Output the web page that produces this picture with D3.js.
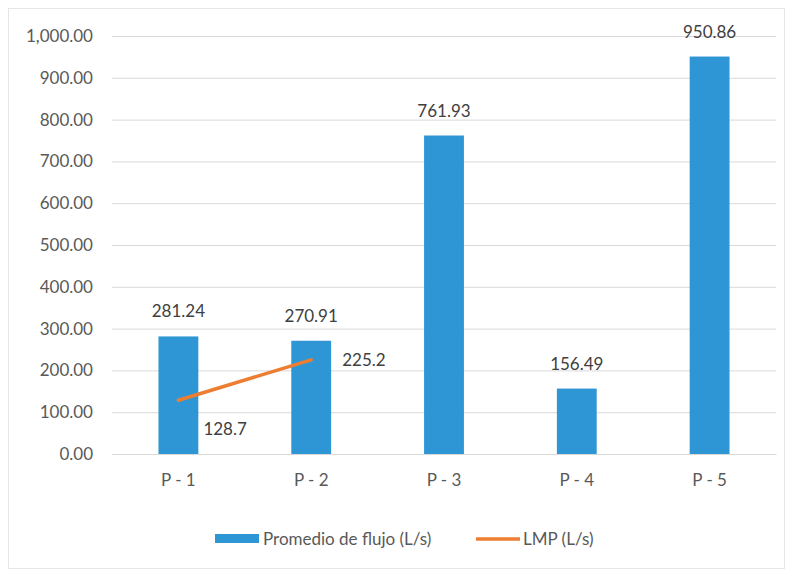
<!DOCTYPE html>
<html><head><meta charset="utf-8">
<script src="https://cdn.jsdelivr.net/npm/d3@7"></script>
<style>body{margin:0;background:#fff}text{font-family:Lato,"Open Sans",sans-serif}</style>
</head><body>
<svg id="c" width="788" height="574"></svg>
<script>
const categories = ["P - 1","P - 2","P - 3","P - 4","P - 5"];
const flujo = [281.24, 270.91, 761.93, 156.49, 950.86];
const lmpCats = ["P - 1","P - 2"];
const lmp = [128.7, 225.2];
const yTicks = [0,100,200,300,400,500,600,700,800,900,1000];
const seriesNames = ["Promedio de flujo (L/s)","LMP (L/s)"];

const svg = d3.select("#c");
const W = 788, H = 574;
svg.append("rect").attr("x",8.5).attr("y",8.5).attr("width",W-12).attr("height",H-14)
  .attr("fill","#fff").attr("stroke","#e6e6e6");
const m = {l:112, r:776, t:36, b:454};
const x = d3.scaleBand().domain(categories).range([m.l,m.r]).paddingInner(0.7).paddingOuter(0.35);
const y = d3.scaleLinear().domain([0,1000]).range([m.b,m.t]);

const fmt = d3.format(",.2f");
const FS = 17;
const ga = svg.append("g").attr("transform",`translate(${m.l},0)`)
  .call(d3.axisLeft(y).tickValues(yTicks).tickSize(-(m.r-m.l)).tickFormat(fmt).tickPadding(19));
ga.select(".domain").remove();
ga.selectAll(".tick line").attr("stroke","#d9d9d9").attr("stroke-width",1);
ga.selectAll(".tick text").attr("fill","#595959").attr("font-size",FS);

const gx = svg.append("g").attr("transform",`translate(0,${m.b})`)
  .call(d3.axisBottom(x).tickSize(0).tickPadding(20));
gx.select(".domain").attr("stroke","#d9d9d9");
gx.selectAll(".tick text").attr("fill","#595959").attr("font-size",FS);

svg.selectAll(".bar").data(flujo).enter().append("rect")
  .attr("x",(d,i)=>x(categories[i])).attr("width",x.bandwidth())
  .attr("y",d=>y(d)).attr("height",d=>y(0)-y(d)).attr("fill","#2E96D4");

svg.selectAll(".bl").data(flujo).enter().append("text")
  .attr("x",(d,i)=>x(categories[i])+x.bandwidth()/2).attr("y",d=>y(d)-19)
  .attr("text-anchor","middle").attr("fill","#404040").attr("font-size",FS)
  .text(d=>fmt(d));

const cx = c => x(c)+x.bandwidth()/2;
const line = d3.line().x((d,i)=>cx(lmpCats[i])).y(d=>y(d));
svg.append("path").datum(lmp).attr("d",line).attr("fill","none")
  .attr("stroke","#ED7D31").attr("stroke-width",3.5).attr("stroke-linecap","round");

svg.selectAll(".ll").data(lmp).enter().append("text")
  .attr("x",(d,i)=>cx(lmpCats[i]) + (i===0?25:31))
  .attr("y",(d,i)=>y(d)+(i===0?35:6))
  .attr("fill","#404040").attr("font-size",FS).text(d=>d);

// legend
const lg = svg.append("g");
lg.append("rect").attr("x",215).attr("y",534).attr("width",44).attr("height",9).attr("fill","#2E96D4");
lg.append("text").attr("x",263).attr("y",545).attr("fill","#595959").attr("font-size",FS).text(seriesNames[0]);
lg.append("line").attr("x1",476).attr("x2",520).attr("y1",539).attr("y2",539).attr("stroke","#ED7D31").attr("stroke-width",3.5);
lg.append("text").attr("x",523).attr("y",545).attr("fill","#595959").attr("font-size",FS).text(seriesNames[1]);
</script></body></html>
